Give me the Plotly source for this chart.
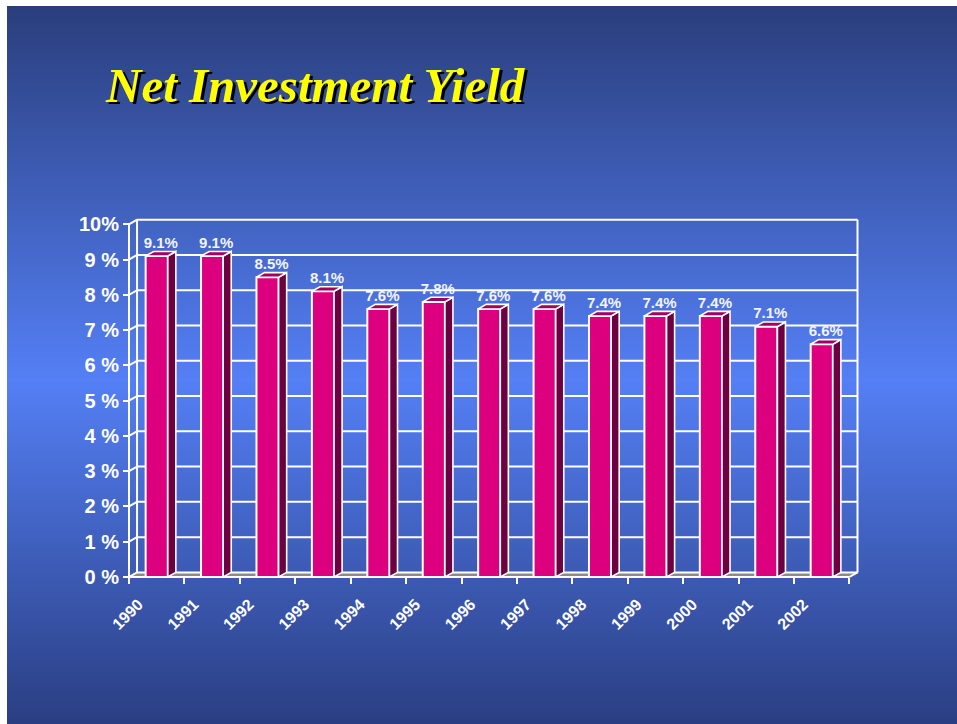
import plotly.graph_objects as go

# ---------------- data ----------------
years = ["1990", "1991", "1992", "1993", "1994", "1995", "1996",
         "1997", "1998", "1999", "2000", "2001", "2002"]
yield_pct = [9.1, 9.1, 8.5, 8.1, 7.6, 7.8, 7.6, 7.6, 7.4, 7.4, 7.4, 7.1, 6.6]
y_ticks = [0, 1, 2, 3, 4, 5, 6, 7, 8, 9, 10]
y_ticktext = ["0 %", "1 %", "2 %", "3 %", "4 %", "5 %", "6 %", "7 %", "8 %", "9 %", "10%"]
title_text = "Net Investment Yield"

# ---------------- geometry / style ----------------
W, H = 957, 724
PL, PR, PT, PB = 115, 875, 205, 595      # plot area in px
X0, Y0 = 129, 577                        # px of (x=-0.5, y=0) front corner
SX, SY = 55.42, 35.27                    # px per unit
DX, DY = 0.145, 0.13                     # 3D depth offset in data units
BW = 0.4                                 # bar width
n = len(years)
idx = list(range(n))
xmin_c, xmax_c = -0.5, n - 0.5

xr = [-0.5 - (X0 - PL) / SX, -0.5 + (PR - X0) / SX]
yr = [-(PB - Y0) / SY, (Y0 - PT) / SY]

def px_x(p):
    return (p - PL) / (PR - PL)

def px_y(p):
    return (PB - p) / (PB - PT)

shapes = []
# gradient background (white frame at left/top)
stops = [(6, (42, 62, 124)), (380, (84, 127, 245)), (724, (42, 62, 130))]
def grad(y):
    for (y1, c1), (y2, c2) in zip(stops[:-1], stops[1:]):
        if y1 <= y <= y2:
            t = (y - y1) / (y2 - y1)
            return tuple(round(a + (b - a) * t) for a, b in zip(c1, c2))
    return stops[-1][1]
step = 4
y = 6
while y < H:
    c = grad(y + step / 2)
    shapes.append(dict(type="rect", xref="paper", yref="paper",
                       x0=px_x(7), x1=px_x(W + 5), y0=px_y(y), y1=px_y(y + step + 0.6),
                       fillcolor="rgb(%d,%d,%d)" % c, line=dict(width=0), layer="below"))
    y += step

WHITE = dict(color="white", width=2)
# floor
shapes.append(dict(type="path", xref="x", yref="y", layer="below",
                   path="M %f,%f L %f,%f L %f,%f L %f,%f Z" % (
                       xmin_c, 0, xmax_c, 0, xmax_c + DX, DY, xmin_c + DX, DY),
                   fillcolor="#8a8a8a", line=dict(width=0)))
# back wall gridlines + left wall diagonals
for k in y_ticks:
    shapes.append(dict(type="line", xref="x", yref="y", layer="below",
                       x0=xmin_c + DX, x1=xmax_c + DX, y0=k + DY, y1=k + DY, line=WHITE))
    shapes.append(dict(type="line", xref="x", yref="y", layer="below",
                       x0=xmin_c, x1=xmin_c + DX, y0=k, y1=k + DY, line=WHITE))
ytop = y_ticks[-1]
for xx, y0, y1 in [(xmin_c, 0, ytop), (xmin_c + DX, DY, ytop + DY), (xmax_c + DX, DY, ytop + DY)]:
    shapes.append(dict(type="line", xref="x", yref="y", layer="below",
                       x0=xx, x1=xx, y0=y0, y1=y1, line=WHITE))
shapes.append(dict(type="line", xref="x", yref="y", layer="below",
                   x0=xmin_c, x1=xmax_c, y0=0, y1=0, line=WHITE))
shapes.append(dict(type="line", xref="x", yref="y", layer="below",
                   x0=xmax_c, x1=xmax_c + DX, y0=0, y1=DY, line=WHITE))

fig = go.Figure()

# front faces
fig.add_trace(go.Bar(x=idx, y=yield_pct, width=BW,
                     marker=dict(color="#dc007e", line=dict(color="white", width=2)),
                     hoverinfo="skip"))

# side and top faces
sx, sy, tx, ty = [], [], [], []
for i, v in zip(idx, yield_pct):
    r = i + BW / 2
    l = i - BW / 2
    sx += [r, r + DX, r + DX, r, r, None]
    sy += [0, DY, v + DY, v, 0, None]
    tx += [l, r, r + DX, l + DX, l, None]
    ty += [v, v, v + DY, v + DY, v, None]
fig.add_trace(go.Scatter(x=sx, y=sy, mode="lines", fill="toself", fillcolor="#6c0040",
                         line=dict(color="white", width=1.6), hoverinfo="skip"))
fig.add_trace(go.Scatter(x=tx, y=ty, mode="lines", fill="toself", fillcolor="#a3005e",
                         line=dict(color="white", width=1.6), hoverinfo="skip"))

# value labels
fig.add_trace(go.Scatter(x=[i + DX / 2 for i in idx], y=[v + DY for v in yield_pct],
                         mode="text", text=["%.1f%%" % v for v in yield_pct],
                         textposition="top center", cliponaxis=False,
                         textfont=dict(family="Liberation Sans, Arial", size=15, color="#f4f4ff", weight="bold"),
                         hoverinfo="skip"))

# anchor trace for the tick-mark axis
bounds = [i - 0.5 for i in range(n + 1)]
fig.add_trace(go.Scatter(x=bounds, y=[0] * len(bounds), mode="none", xaxis="x2",
                         hoverinfo="skip", showlegend=False))

fig.update_layout(
    width=W, height=H,
    margin=dict(l=PL, r=W - PR, t=PT, b=H - PB, pad=0),
    paper_bgcolor="white", plot_bgcolor="rgba(0,0,0,0)",
    showlegend=False,
    hovermode=False,
    shapes=shapes,
    xaxis=dict(range=xr, anchor="free", position=px_y(Y0), side="bottom",
               tickvals=[i - 0.33 for i in idx], ticktext=years, tickangle=-45,
               ticks="", ticklabelstandoff=14,
               tickfont=dict(family="Liberation Sans, Arial", size=16, color="white", weight="bold"),
               showgrid=False, zeroline=False, showline=False, fixedrange=True),
    xaxis2=dict(range=xr, overlaying="x", anchor="free", position=px_y(Y0), side="bottom",
                tickvals=bounds, ticks="outside", ticklen=6, tickwidth=2, tickcolor="white",
                showticklabels=False, showgrid=False, zeroline=False, showline=False, fixedrange=True),
    yaxis=dict(range=yr, anchor="free", position=px_x(X0), side="left",
               tickvals=y_ticks, ticktext=y_ticktext,
               ticks="outside", ticklen=6, tickwidth=2, tickcolor="white",
               tickfont=dict(family="Liberation Sans, Arial", size=20, color="white", weight="bold"),
               showgrid=False, zeroline=False, showline=False, fixedrange=True),
    annotations=[
        dict(text="<b><i>" + title_text + "</i></b>", xref="paper", yref="paper",
             x=px_x(106), y=px_y(88), xanchor="left", yanchor="middle", showarrow=False,
             font=dict(family="Liberation Serif, Times New Roman", size=49, color="black")),
        dict(text="<b><i>" + title_text + "</i></b>", xref="paper", yref="paper",
             x=px_x(103), y=px_y(85), xanchor="left", yanchor="middle", showarrow=False,
             font=dict(family="Liberation Serif, Times New Roman", size=49, color="#ffff00")),
    ],
)

fig.write_html("out.html", config={"displayModeBar": False},
               post_script="document.body.style.margin='0px';")
